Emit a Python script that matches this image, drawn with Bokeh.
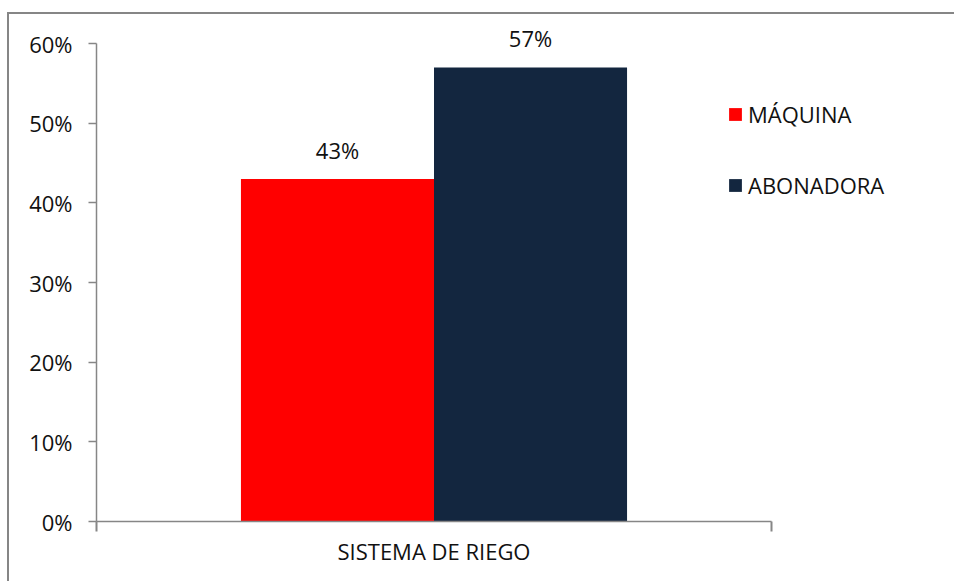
from bokeh.plotting import figure
from bokeh.models import (Range1d, FixedTicker, NumeralTickFormatter, ColumnDataSource,
                          LabelSet, Legend, LegendItem, LinearAxis)
from bokeh.transform import dodge
from bokeh.core.properties import value
from bokeh.embed import file_html
from bokeh.resources import INLINE

categories = ["SISTEMA DE RIEGO"]
series = ["MÁQUINA", "ABONADORA"]
values = [0.43, 0.57]
colors = ["#FF0000", "#13263F"]
labels = ["43%", "57%"]
y_ticks = [0, 0.1, 0.2, 0.3, 0.4, 0.5, 0.6]

FONT = "Open Sans"
GRAY = "#868686"
TXT = "#111111"

# frame: left edge at x=96, bottom at y=521; axis spans 675 px (x 0..1) and 478 px (y 0..0.6)
p = figure(width=947, height=569, output_backend="svg", toolbar_location=None,
           x_range=Range1d(0, 860 / 675), y_range=Range1d(0, 0.6 * 507 / 478),
           min_border_left=87, min_border_right=0, min_border_top=0, min_border_bottom=62)
p.margin = (12, 0, 0, 7)
p.styles = {"border-top": f"2px solid {GRAY}", "border-left": f"2px solid {GRAY}"}

p.grid.visible = False
p.outline_line_color = None
p.background_fill_color = "white"
p.border_fill_color = "white"

bw = 0.286
offsets = [-bw / 2, bw / 2]
renderers = []
for i, s in enumerate(series):
    src = ColumnDataSource(dict(x=[0.5], top=[values[i]], lab=[labels[i]]))
    r = p.vbar(x=dodge("x", offsets[i]), top="top", bottom=0, width=bw, source=src,
               fill_color=colors[i], line_color=None)
    renderers.append(r)
    ls = LabelSet(x=dodge("x", offsets[i]), y="top", text="lab", source=src,
                  text_align="center", text_baseline="alphabetic", y_offset=20,
                  text_font=value(FONT), text_font_size="22px", text_color=TXT)
    p.add_layout(ls)

# y axis
ya = p.yaxis[0]
ya.bounds = (0, 0.6)
ya.ticker = FixedTicker(ticks=y_ticks)
ya.formatter = NumeralTickFormatter(format="0%")
ya.axis_line_color = GRAY
ya.axis_line_width = 1.5
ya.major_tick_line_color = GRAY
ya.major_tick_line_width = 1.5
ya.major_tick_out = 8
ya.major_tick_in = 0
ya.minor_tick_line_color = None
ya.major_label_standoff = 16
ya.major_label_text_font = FONT
ya.major_label_text_font_size = "22px"
ya.major_label_text_color = TXT

# x axis (line and end ticks)
xa = p.xaxis[0]
xa.bounds = (0, 1)
xa.ticker = FixedTicker(ticks=[0, 1])
xa.major_label_overrides = {0: "", 1: ""}
xa.major_label_standoff = 0
xa.axis_line_color = GRAY
xa.axis_line_width = 1.5
xa.major_tick_line_color = GRAY
xa.major_tick_line_width = 2
xa.major_tick_out = 10
xa.major_tick_in = 0
xa.minor_tick_line_color = None

# category label axis
xa2 = LinearAxis(ticker=FixedTicker(ticks=[0.5]), major_label_overrides={0.5: categories[0]},
                 axis_line_color=None, major_tick_line_color=None, minor_tick_line_color=None,
                 major_tick_out=0, major_tick_in=0, major_label_standoff=4,
                 major_label_text_font=FONT, major_label_text_font_size="22px",
                 major_label_text_color=TXT)
p.add_layout(xa2, "below")

legend = Legend(items=[LegendItem(label=s, renderers=[r]) for s, r in zip(series, renderers)],
                location=(631, 321), padding=0, margin=0, spacing=41,
                glyph_width=16, glyph_height=16, label_standoff=5,
                label_text_font=FONT, label_text_font_size="22px", label_text_color=TXT,
                border_line_color=None, background_fill_alpha=0)
p.add_layout(legend)

open("out.html", "w").write(file_html(p, INLINE))
